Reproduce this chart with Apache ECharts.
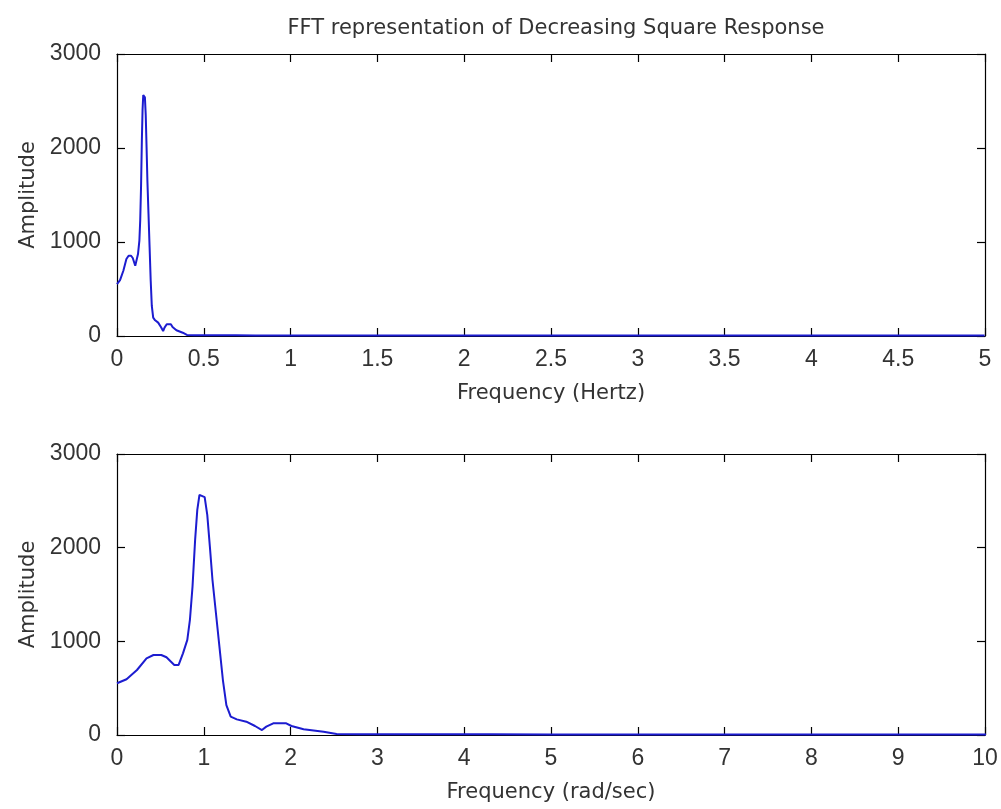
<!DOCTYPE html>
<html>
<head>
<meta charset="utf-8">
<script src="https://cdn.jsdelivr.net/npm/echarts@6/dist/echarts.min.js"></script>
<style>html,body{margin:0;padding:0;background:#fff;}#c{width:1001px;height:809px;}</style>
</head>
<body>
<div id="c"></div>
<script>
// Frequency samples in rad/sec and amplitudes
const freqRad = [0, 0.11, 0.23, 0.34, 0.42, 0.51, 0.57, 0.66, 0.71, 0.76, 0.81, 0.84, 0.87, 0.90, 0.925, 0.95, 1.01, 1.04, 1.07, 1.10, 1.14, 1.18, 1.22, 1.26, 1.31, 1.38, 1.49, 1.59, 1.67, 1.72, 1.80, 1.95, 2.01, 2.15, 2.38, 2.53, 2.8, 3.2, 3.7, 4.3, 5.0, 5.8, 6.6, 7.5, 8.4, 9.3, 10.2, 12, 14, 16, 18, 20, 22, 24, 26, 28, 30, 31.4];
const amplitude = [552, 595, 694, 819, 854, 854, 830, 748, 748, 872, 1015, 1228, 1584, 2083, 2403, 2563, 2539, 2350, 2011, 1655, 1300, 943, 587, 320, 196, 167, 142, 96, 53, 89, 125, 125, 96, 61, 35, 11, 9, 8, 7, 7, 6, 6, 6, 5, 5, 5, 5, 5, 5, 4, 4, 4, 4, 4, 4, 4, 4, 4];
const yTicks = [0, 1000, 2000, 3000];
const hzTicks = [0, 0.5, 1, 1.5, 2, 2.5, 3, 3.5, 4, 4.5, 5];
const radTicks = [0, 1, 2, 3, 4, 5, 6, 7, 8, 9, 10];
const titleText = 'FFT representation of Decreasing Square Response';

const dataRad = freqRad.map((w, i) => [w, amplitude[i]]);
const dataHz = freqRad.map((w, i) => [w / (2 * Math.PI), amplitude[i]]);

const tickFont = {fontFamily: 'Liberation Sans', fontSize: 23, color: '#333'};
const nameFont = {fontFamily: 'DejaVu Sans', fontSize: 21, color: '#333'};
const lineStyle = {color: '#000', width: 1.2};

function xAx(gi, ticks, name, pos) {
  const main = pos === 'bottom';
  return {
    type: 'value', gridIndex: gi, position: pos,
    min: ticks[0], max: ticks[ticks.length - 1], interval: ticks[1] - ticks[0],
    name: main ? name : '', nameLocation: 'middle', nameGap: 47, nameTextStyle: nameFont,
    axisLine: {show: true, onZero: false, lineStyle},
    axisTick: {show: true, inside: true, length: 8, lineStyle},
    axisLabel: {show: main, margin: 12, ...tickFont, formatter: v => String(v)},
    splitLine: {show: false}
  };
}
function yAx(gi, pos) {
  const main = pos === 'left';
  return {
    type: 'value', gridIndex: gi, position: pos,
    min: yTicks[0], max: yTicks[yTicks.length - 1], interval: yTicks[1] - yTicks[0],
    name: main ? 'Amplitude' : '', nameLocation: 'middle', nameGap: 78, nameTextStyle: nameFont,
    axisLine: {show: true, onZero: false, lineStyle},
    axisTick: {show: true, inside: true, length: 8, lineStyle},
    axisLabel: {show: main, margin: 16, ...tickFont, formatter: v => String(v)},
    splitLine: {show: false}
  };
}

const chart = echarts.init(document.getElementById('c'), null, {renderer: 'canvas'});
chart.setOption({
  backgroundColor: '#fff',
  animation: false,
  title: {text: titleText, left: 551, top: 13, textAlign: 'center',
    textStyle: {fontFamily: 'DejaVu Sans', fontSize: 21, fontWeight: 'normal', color: '#333'}},
  grid: [
    {left: 117, right: 16, top: 54, height: 282},
    {left: 117, right: 16, top: 454, height: 281}
  ],
  xAxis: [
    xAx(0, hzTicks, 'Frequency (Hertz)', 'bottom'),
    xAx(0, hzTicks, '', 'top'),
    xAx(1, radTicks, 'Frequency (rad/sec)', 'bottom'),
    xAx(1, radTicks, '', 'top')
  ],
  yAxis: [yAx(0, 'left'), yAx(0, 'right'), yAx(1, 'left'), yAx(1, 'right')],
  series: [
    {type: 'line', xAxisIndex: 0, yAxisIndex: 0, data: dataHz, showSymbol: false, z: 5,
      lineStyle: {color: '#1c1cd0', width: 2}},
    {type: 'line', xAxisIndex: 2, yAxisIndex: 2, data: dataRad, showSymbol: false, z: 5,
      lineStyle: {color: '#1c1cd0', width: 2}}
  ]
});
</script>
</body>
</html>
